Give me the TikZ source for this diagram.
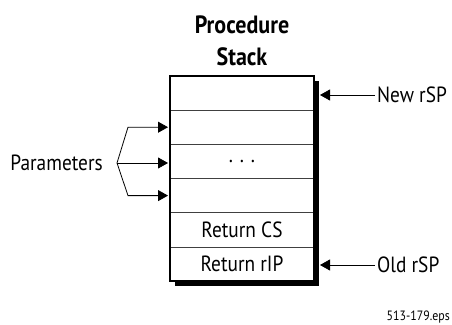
\documentclass[tikz,border=0pt]{standalone}
\usepackage{fontspec}
\setmainfont{PT Sans}[FakeStretch=0.88]
\usetikzlibrary{positioning,arrows.meta,backgrounds}

\begin{document}
\begin{tikzpicture}
[x=1pt,y=-1pt,
 cell/.style={shape=rectangle,draw=black!75,line width=0.8pt,fill=white,minimum width=144pt,minimum height=34.2pt,inner sep=0pt,outer sep=0pt,font=\fontsize{22}{24}\selectfont},
 lbl/.style={font=\fontsize{22}{24}\selectfont,inner sep=2pt},
 >={Triangle[length=10pt,width=11pt]}]
\useasboundingbox (0,0) rectangle (452,324);
\node[cell] (free) at (242,93) {};
\node[cell] (p1) [below=0pt of free] {};
\node[cell] (p2) [below=0pt of p1] {. . .};
\node[cell] (p3) [below=0pt of p2] {};
\node[cell] (retcs) [below=0pt of p3] {Return CS};
\node[cell] (retip) [below=0pt of retcs] {Return rIP};
\draw[line width=1.6pt] (free.north west) rectangle (retip.south east);
\begin{scope}[on background layer]
\fill ([xshift=5pt,yshift=-5pt]free.north west) rectangle ([xshift=5pt,yshift=-5pt]retip.south east);
\end{scope}
\node[font=\fontsize{25}{31.5}\selectfont\bfseries,align=center,inner sep=0pt] (title) [above=10pt of free] {Procedure\\Stack};

\node[lbl,anchor=west] (newsp) at (375,95) {New rSP};
\node[lbl,anchor=west] (oldsp) at (375,265) {Old rSP};
\draw[->,line width=0.8pt,shorten >=6pt] (newsp.west) -- (newsp.west -| free.east);
\draw[->,line width=0.8pt,shorten >=6pt] (oldsp.west) -- (oldsp.west -| retip.east);

\coordinate (fork) at (117,163);
\node[lbl] (params) [left=12pt of fork] {Parameters};
\draw[->,line width=0.8pt,shorten >=2pt] (fork) -- ([xshift=11pt]fork |- p1.west) -- (p1.west);
\draw[->,line width=0.8pt,shorten >=2pt] (fork) -- (fork -| p2.west);
\draw[->,line width=0.8pt,shorten >=2pt] (fork) -- ([xshift=11pt]fork |- p3.west) -- (p3.west);

\node[font=\fontsize{13.5}{15}\selectfont,anchor=base east,inner sep=0pt] (fig) at (450,320) {513-179.eps};
\end{tikzpicture}
\end{document}
